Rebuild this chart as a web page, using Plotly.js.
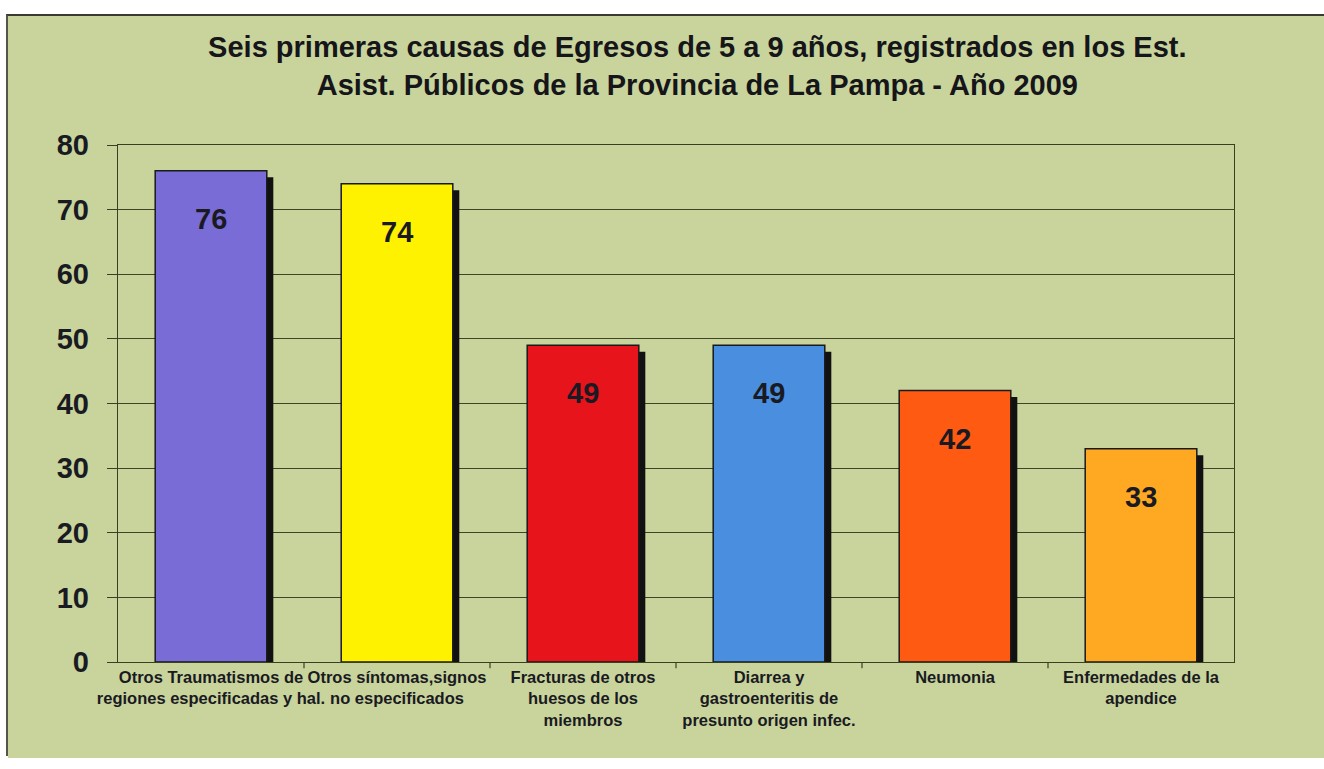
<!DOCTYPE html>
<html><head><meta charset="utf-8">
<script src="https://cdn.plot.ly/plotly-3.0.1.min.js"></script>
<style>
html,body{margin:0;padding:0;background:#ffffff;}
#chart{position:absolute;left:6px;top:14px;width:1318px;height:742px;border-top:2px solid #3a3a30;border-left:2px solid #55554a;box-sizing:border-box;}
</style></head><body>
<div id="chart"></div>
<script>
const categories = [
  "Otros Traumatismos de<br>regiones especificadas y hal.",
  "Otros síntomas,signos<br>no especificados",
  "Fracturas de otros<br>huesos de los<br>miembros",
  "Diarrea y<br>gastroenteritis de<br>presunto origen infec.",
  "Neumonia",
  "Enfermedades de la<br>apendice"
];
const values = [76, 74, 49, 49, 42, 33];
const barColors = ["#7a6cd6", "#fff200", "#e8141c", "#4a8ee0", "#ff5a12", "#ffa922"];
const yTicks = [0, 10, 20, 30, 40, 50, 60, 70, 80];

const FONT = "Liberation Sans, Arial, sans-serif";

const shadow = {
  type: "bar", x: categories, y: values, base: -1.0,
  width: 0.6, offset: -0.265,
  marker: {color: "#111111", line: {width: 0}},
  hoverinfo: "skip", showlegend: false
};
const bars = {
  type: "bar", x: categories, y: values,
  width: 0.6, offset: -0.3,
  marker: {color: barColors, line: {color: "#1a1a1a", width: 1.5}},
  showlegend: false
};

const annotations = categories.map((c, i) => ({
  x: c, y: values[i], xref: "x", yref: "y",
  text: "<b>" + values[i] + "</b>", showarrow: false,
  yanchor: "middle", yshift: -48,
  font: {family: FONT, size: 29, color: "#1a1a22"}
}));

const layout = {
  width: 1318, height: 742,
  paper_bgcolor: "#c8d49c", plot_bgcolor: "#c8d49c",
  margin: {l: 110, r: 92, t: 129, b: 96},
  barmode: "overlay",
  title: {
    text: "<b>Seis primeras causas de Egresos de 5 a 9 años, registrados en los Est.<br>Asist. Públicos de la Provincia de La Pampa - Año 2009</b>",
    font: {family: FONT, size: 29, color: "#15151a"},
    x: 0.523, xanchor: "center", y: 0.945, yanchor: "middle", yref: "container"
  },
  xaxis: {
    type: "category",
    tickfont: {family: FONT, size: 16.5, color: "#1a1a22", weight: "bold"},
    ticks: "", showgrid: false,
    showline: true, linecolor: "#3a3f22", linewidth: 1.2, mirror: true,
    tickangle: 0, automargin: false
  },
  yaxis: {
    range: [0, 80], tickvals: yTicks,
    tickfont: {family: FONT, size: 29, color: "#1a1a22", weight: "bold"},
    ticks: "outside", ticklen: 10, tickcolor: "#3a3f22", ticklabelstandoff: 12,
    showgrid: true, gridcolor: "#3f4426", gridwidth: 1.2,
    showline: true, linecolor: "#3a3f22", linewidth: 1.2, mirror: true,
    zeroline: false, automargin: false
  },
  annotations: annotations,
  shapes: [0.5, 1.5, 2.5, 3.5, 4.5].map(p => ({
    type: "line", xref: "x", yref: "paper", x0: p, x1: p, y0: 0, y1: -0.012,
    line: {color: "#3a3f22", width: 1.2}
  }))
};

Plotly.newPlot("chart", [shadow, bars], layout, {displayModeBar: false, staticPlot: true});
</script>
</body></html>
